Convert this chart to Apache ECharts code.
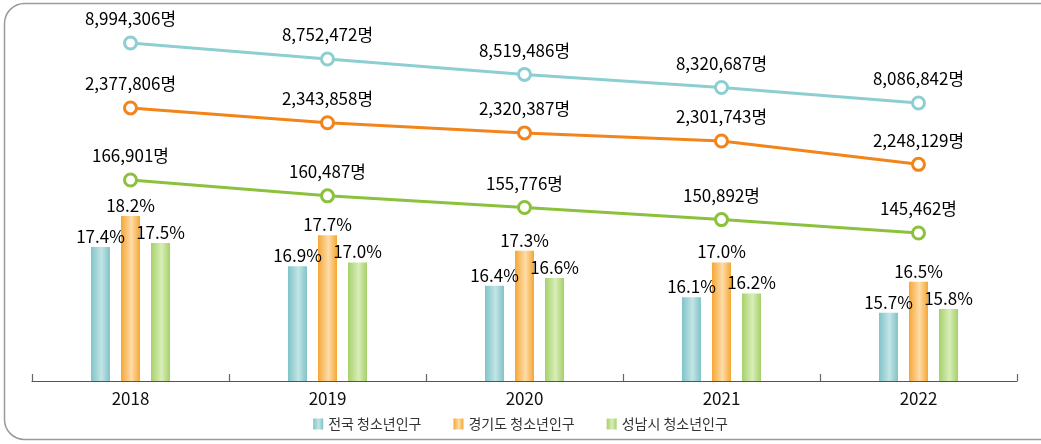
<!DOCTYPE html>
<html lang="ko">
<head>
<meta charset="utf-8">
</head>
<body style="margin: 0; background: #fff">
<div id="container" style="width: 1041px; height: 444px"></div>
<script src="https://cdn.jsdelivr.net/npm/echarts@6/dist/echarts.min.js"></script>
<script>
// 데이터
const years = ['2018', '2019', '2020', '2021', '2022'];
const seriesNames = ['전국 청소년인구', '경기도 청소년인구', '성남시 청소년인구'];
const ratioNation = [17.4, 16.9, 16.4, 16.1, 15.7];
const ratioGyeonggi = [18.2, 17.7, 17.3, 17.0, 16.5];
const ratioSeongnam = [17.5, 17.0, 16.6, 16.2, 15.8];
const popNation = [8994306, 8752472, 8519486, 8320687, 8086842];
const popGyeonggi = [2377806, 2343858, 2320387, 2301743, 2248129];
const popSeongnam = [166901, 160487, 155776, 150892, 145462];

const font = '"Noto Sans CJK KR", "Noto Sans", sans-serif';
const narrow = '"Liberation Sans Narrow", "Noto Sans CJK KR", sans-serif';

function barGrad(edge, mid) {
	return new echarts.graphic.LinearGradient(0, 0, 1, 0, [
		{ offset: 0, color: edge },
		{ offset: 0.55, color: mid },
		{ offset: 1, color: edge }
	]);
}
const barColors = [
	barGrad('#80c3c8', '#c2e5e6'),
	barGrad('#f6a733', '#fddcaa'),
	barGrad('#a6d06a', '#d8eeb9')
];
const lineColors = ['#8dcfd1', '#f2841a', '#8bc13d'];

function fmt(v) {
	return v.toLocaleString('en-US') + '명';
}

var chart = echarts.init(document.getElementById('container'));

function hiddenY(min, max) {
	return {
		type: 'value', min: min, max: max, show: false,
		splitLine: { show: false }
	};
}

function barSeries(i, data) {
	return {
		name: seriesNames[i],
		type: 'bar',
		yAxisIndex: 0,
		barWidth: 19,
		barGap: '58%',
		itemStyle: { color: barColors[i] },
		label: {
			show: true, position: 'top', distance: 2,
			fontFamily: narrow, fontSize: 17, color: '#000',
			formatter: p => p.value.toFixed(1) + '%'
		},
		data: data
	};
}

function lineSeries(i, axis, data) {
	return {
		name: 'line' + i,
		type: 'line',
		yAxisIndex: axis,
		symbol: 'circle',
		symbolSize: 12,
		lineStyle: { color: lineColors[i], width: 3 },
		itemStyle: { color: '#fff', borderColor: lineColors[i], borderWidth: 3 },
		label: {
			show: true, position: 'top', distance: 8,
			fontFamily: narrow, fontSize: 17, color: '#000',
			formatter: p => fmt(p.value)
		},
		z: 5,
		data: data
	};
}

var option = {
	animation: false,
	graphic: [{
		type: 'rect',
		shape: { x: 4.5, y: 3.5, width: 1060, height: 436, r: 20 },
		style: { fill: 'none', stroke: '#9a9a9a', lineWidth: 1.5 },
		z: -1
	}],
	grid: { left: 32, right: 24, top: 20, bottom: 63 },
	legend: {
		data: seriesNames,
		bottom: 8,
		left: 'center',
		icon: 'rect',
		itemWidth: 10,
		itemHeight: 11,
		itemGap: 32,
		textStyle: { fontFamily: font, fontSize: 14, color: '#333' }
	},
	xAxis: {
		type: 'category',
		data: years,
		boundaryGap: true,
		axisLine: { show: true, lineStyle: { color: '#555', width: 1.2 } },
		axisTick: { show: true, inside: true, alignWithLabel: false, interval: 0, length: 7, lineStyle: { color: '#666', width: 1.2 } },
		axisLabel: { fontFamily: font, fontSize: 17, color: '#111', margin: 9 }
	},
	yAxis: [
		hiddenY(13.94, 23.26),
		hiddenY(3882394, 9342158),
		hiddenY(1750000, 2580000),
		hiddenY(85596, 231621)
	],
	series: [
		barSeries(0, ratioNation),
		barSeries(1, ratioGyeonggi),
		barSeries(2, ratioSeongnam),
		lineSeries(0, 1, popNation),
		lineSeries(1, 2, popGyeonggi),
		lineSeries(2, 3, popSeongnam)
	]
};
chart.setOption(option);
</script>
</body>
</html>
